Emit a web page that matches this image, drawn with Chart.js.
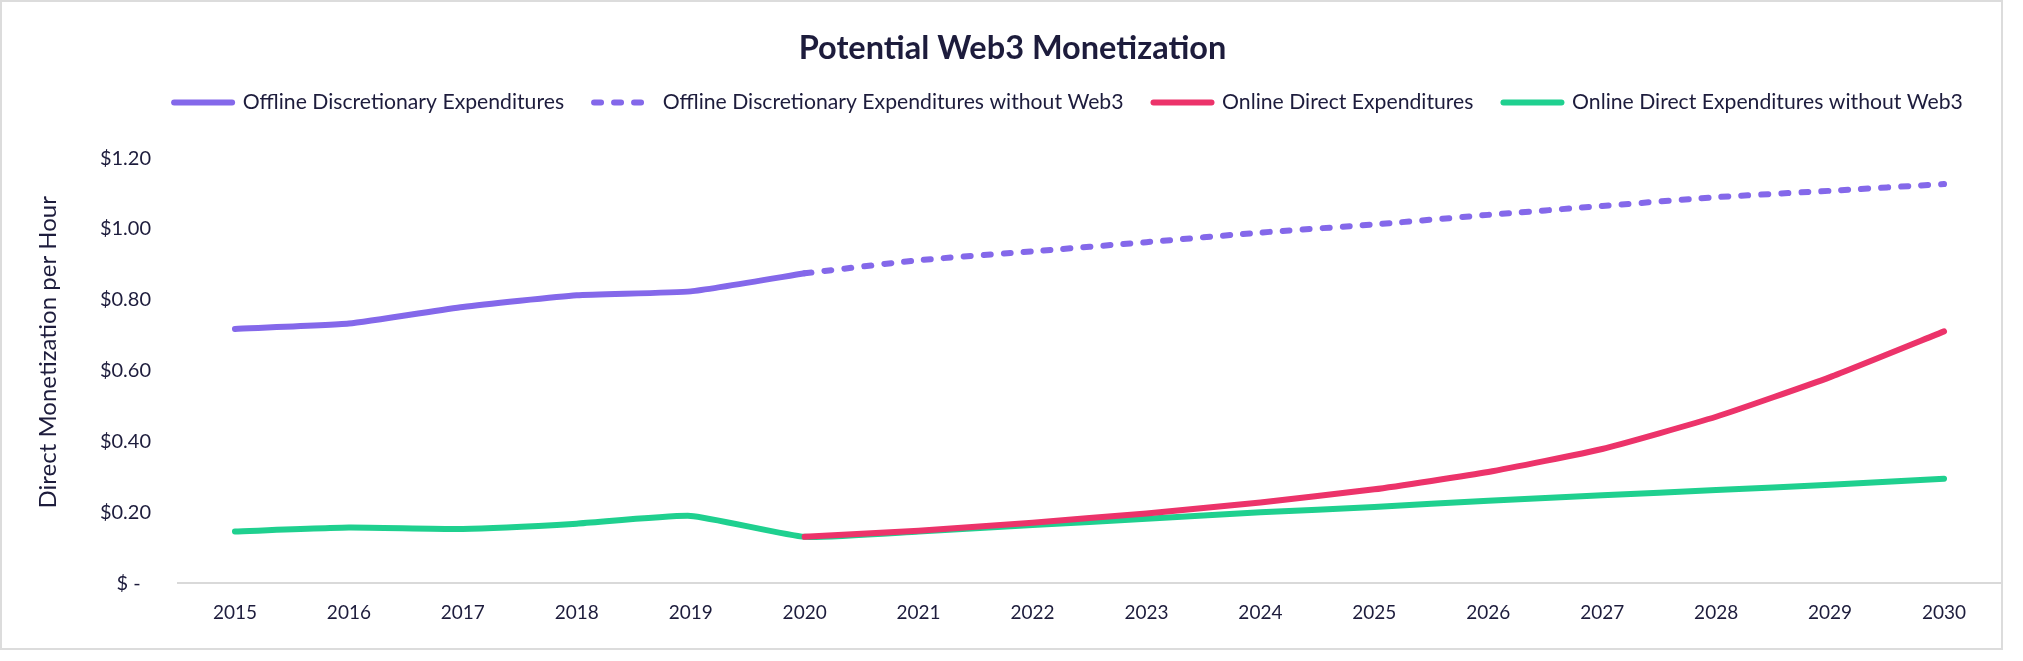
<!DOCTYPE html>
<html>
<head>
<meta charset="utf-8">
<script src="https://cdn.jsdelivr.net/npm/chart.js@4"></script>
<style>
  html, body { margin: 0; padding: 0; background: #fff; }
  #frame {
    position: absolute; left: 0; top: 0;
    width: 1999px; height: 646px;
    border: 2px solid #dcdcdc;
  }
</style>
</head>
<body>
<div id="frame"><canvas id="chart"></canvas></div>
<script>
// Data
const years = ['2015', '2016', '2017', '2018', '2019', '2020', '2021', '2022',
               '2023', '2024', '2025', '2026', '2027', '2028', '2029', '2030'];

const offlineSpend = [0.718, 0.733, 0.780, 0.813, 0.824, 0.875,
                      null, null, null, null, null, null, null, null, null, null];

const offlineNoWeb3 = [null, null, null, null, null, 0.875,
                       0.912, 0.937, 0.963, 0.990, 1.013, 1.040, 1.065, 1.090, 1.108, 1.127];

const onlineSpend = [null, null, null, null, null, 0.131,
                     0.148, 0.171, 0.197, 0.228, 0.265, 0.314, 0.379, 0.470, 0.582, 0.711];

const onlineNoWeb3 = [0.146, 0.157, 0.153, 0.168, 0.190, 0.131,
                      0.146, 0.164, 0.182, 0.200, 0.215, 0.233, 0.248, 0.263, 0.278, 0.295];

const yTicks = [0, 0.2, 0.4, 0.6, 0.8, 1.0, 1.2];

const PURPLE = '#8468ea';
const RED = '#ec336a';
const GREEN = '#1fd08f';
const INK = '#1d1c3c';
const FONT = 'Lato, "Open Sans", sans-serif';

Chart.defaults.font.family = FONT;
Chart.defaults.color = INK;

// a line dataset with the common look
function lineSet(label, data, color, dash) {
    return {
        label: label,
        data: data,
        borderColor: color,
        backgroundColor: color,
        borderWidth: 6,
        borderDash: dash || [],
        borderCapStyle: 'round',
        borderJoinStyle: 'round',
        pointRadius: 0,
        tension: 0.15
    };
}

// legend leaves a gap under it and sits a little to the right, like the original
const legendNudge = {
    id: 'legendNudge',
    beforeInit(chart) {
        const fit = chart.legend.fit;
        chart.legend.fit = function() {
            fit.bind(chart.legend)();
            this.height += 35;
        };
    },
    afterLayout(chart) {
        chart.legend.left += 50;
        chart.legend.right += 50;
        chart.titleBlock.left -= 6;
        chart.titleBlock.right -= 6;
    }
};

const ctx = document.getElementById('chart').getContext('2d');
new Chart(ctx, {
    type: 'line',
    data: {
        labels: years,
        datasets: [
            lineSet('Offline Discretionary Expenditures', offlineSpend, PURPLE),
            lineSet('Offline Discretionary Expenditures without Web3', offlineNoWeb3, PURPLE, [7, 13]),
            lineSet('Online Direct Expenditures', onlineSpend, RED),
            lineSet('Online Direct Expenditures without Web3', onlineNoWeb3, GREEN)
        ]
    },
    plugins: [legendNudge],
    options: {
        responsive: true,
        maintainAspectRatio: false,
        animation: false,
        devicePixelRatio: 1,
        layout: { padding: { top: 17, right: -2, left: 32, bottom: 6 } },
        plugins: {
            title: {
                display: true,
                text: 'Potential Web3 Monetization',
                color: INK,
                font: { size: 32.5, weight: 'bold' },
                padding: { top: 10, bottom: -6 }
            },
            legend: {
                labels: {
                    usePointStyle: true,
                    pointStyle: 'line',
                    pointStyleWidth: 58,
                    font: { size: 21.2 },
                    color: INK,
                    padding: 30,
                    generateLabels: function(chart) {
                        const items = Chart.defaults.plugins.legend.labels.generateLabels(chart);
                        items.forEach(function(item) {
                            const ds = chart.data.datasets[item.datasetIndex];
                            item.lineDash = ds.borderDash;
                            item.lineCap = 'round';
                            item.lineWidth = ds.borderWidth;
                        });
                        return items;
                    }
                }
            },
            tooltip: { enabled: false }
        },
        scales: {
            x: {
                offset: true,
                grid: { display: false, drawTicks: false },
                border: { display: true, color: '#d9d9d9', width: 2 },
                ticks: { font: { size: 19 }, color: INK, padding: 18 }
            },
            y: {
                min: 0,
                max: 1.2,
                afterBuildTicks: function(axis) {
                    axis.ticks = yTicks.map(v => ({ value: v }));
                },
                afterFit: function(axis) {
                    axis.width = 144;
                },
                grid: { display: false, drawTicks: false },
                border: { display: false },
                ticks: {
                    font: { size: 20 },
                    color: INK,
                    padding: 27,
                    callback: function(value) {
                        return value === 0 ? '$ -  ' : '$' + value.toFixed(2);
                    }
                },
                title: {
                    display: true,
                    // leading spaces lift the label a little, as in the original
                    text: '      Direct Monetization per Hour',
                    font: { size: 24 },
                    color: INK,
                    padding: { top: 0, bottom: 10 }
                }
            }
        }
    }
});
</script>
</body>
</html>
